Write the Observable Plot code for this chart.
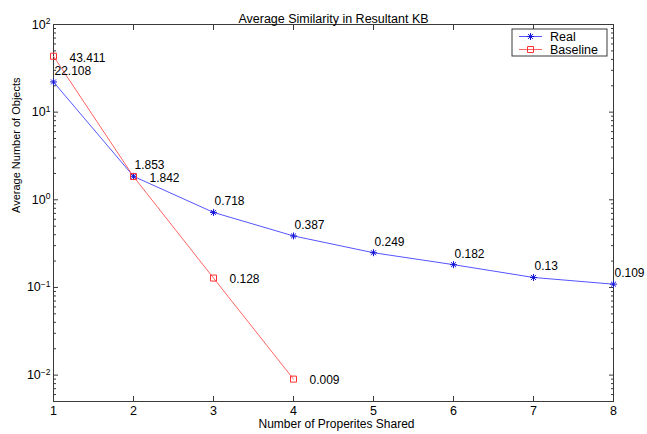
<!DOCTYPE html>
<html><head><meta charset="utf-8">
<script src="https://cdn.jsdelivr.net/npm/d3@7"></script>
<script src="https://cdn.jsdelivr.net/npm/@observablehq/plot@0.6"></script>
<style>
body{margin:0;background:#fff;}
#chart svg{display:block;}
</style></head><body><div id="chart"></div>
<script>
// ---- data ----
const realX = [1, 2, 3, 4, 5, 6, 7, 8];
const realValues = [22.108, 1.853, 0.718, 0.387, 0.249, 0.182, 0.13, 0.109];
const realLabels = ["22.108", "1.853", "0.718", "0.387", "0.249", "0.182", "0.13", "0.109"];
const baselineX = [1, 2, 3, 4];
const baselineValues = [43.411, 1.842, 0.128, 0.009];
const baselineLabels = ["43.411", "1.842", "0.128", "0.009"];
const seriesNames = ["Real", "Baseline"];
const xTicks = [1, 2, 3, 4, 5, 6, 7, 8];
const yMajorTicks = [0.01, 0.1, 1, 10, 100];
const yTickExponents = ["-2", "-1", "0", "1", "2"];
const yMinorTicks = [0.005, 0.006, 0.007, 0.008, 0.009,
  0.02, 0.03, 0.04, 0.05, 0.06, 0.07, 0.08, 0.09,
  0.2, 0.3, 0.4, 0.5, 0.6, 0.7, 0.8, 0.9,
  2, 3, 4, 5, 6, 7, 8, 9,
  20, 30, 40, 50, 60, 70, 80, 90];
const titleText = "Average Similarity in Resultant KB";
const xLabelText = "Number of Properites Shared";
const yLabelText = "Average Number of Objects";

// ---- styles ----
const W = 647, H = 434;
const M = {left: 53, right: 34, top: 24, bottom: 33};
const axisColor = "#3a3a3a";
const blueLine = "#5555ff", blueMark = "#1515d8";
const redLine = "#ff6464", redMark = "#ff3030";
const font = "'Liberation Sans', Arial, Helvetica, sans-serif";
const fs = 12.5;
const fsData = 12;

const asterisk8 = {draw(ctx, size) {
  const r = Math.sqrt(size / Math.PI), d = r * Math.SQRT1_2;
  ctx.moveTo(-r, 0); ctx.lineTo(r, 0);
  ctx.moveTo(0, -r); ctx.lineTo(0, r);
  ctx.moveTo(-d, -d); ctx.lineTo(d, d);
  ctx.moveTo(-d, d); ctx.lineTo(d, -d);
}};
const squareSym = {draw(ctx, size) {
  const r = Math.sqrt(size / Math.PI);
  ctx.rect(-r, -r, 2 * r, 2 * r);
}};

const real = realX.map((x, i) => ({x, y: realValues[i], label: realLabels[i]}));
const base = baselineX.map((x, i) => ({x, y: baselineValues[i], label: baselineLabels[i]}));

const chart = Plot.plot({
  width: W, height: H,
  marginLeft: M.left, marginRight: M.right, marginTop: M.top, marginBottom: M.bottom,
  style: {fontFamily: font, fontSize: fs + "px", color: "#000", background: "#fff", overflow: "visible"},
  x: {domain: [1, 8]},
  y: {type: "log", domain: [0.005, 100]},
  marks: [
    Plot.frame({stroke: axisColor}),
    Plot.axisX({anchor: "bottom", ticks: xTicks, tickSize: -5, tickPadding: 10, tickFormat: d => String(d), label: null, stroke: axisColor, fill: "#000", fontSize: fs}),
    Plot.axisX({anchor: "top", ticks: xTicks, tickSize: -5, tickFormat: () => "", label: null, stroke: axisColor}),
    Plot.axisY({anchor: "left", ticks: yMajorTicks, tickSize: -5, tickPadding: 8, tickFormat: d => "10^" + yTickExponents[yMajorTicks.indexOf(d)], label: null, stroke: axisColor, fill: "#000", fontSize: fs}),
    Plot.axisY({anchor: "left", ticks: yMinorTicks, tickSize: -3, tickFormat: () => "", label: null, stroke: axisColor}),
    Plot.axisY({anchor: "right", ticks: yMajorTicks, tickSize: -5, tickFormat: () => "", label: null, stroke: axisColor}),
    Plot.axisY({anchor: "right", ticks: yMinorTicks, tickSize: -3, tickFormat: () => "", label: null, stroke: axisColor}),
    Plot.line(real, {x: "x", y: "y", stroke: blueLine, strokeWidth: 1}),
    Plot.line(base, {x: "x", y: "y", stroke: redLine, strokeWidth: 1}),
    Plot.dot(real, {x: "x", y: "y", symbol: asterisk8, r: 3.5, stroke: blueMark, strokeWidth: 1}),
    Plot.dot(base, {x: "x", y: "y", symbol: squareSym, r: 3, stroke: redMark, fill: "none", strokeWidth: 1}),
    Plot.text(real, {x: "x", y: "y", text: "label", textAnchor: "start", dx: 1, dy: -11, fill: "#000", fontSize: fsData}),
    Plot.text(base, {x: "x", y: "y", text: "label", textAnchor: "start", dx: 16, dy: 1.5, fill: "#000", fontSize: fsData}),
    Plot.text([titleText], {text: d => d, frameAnchor: "top", dy: -10, fill: "#000", fontSize: fs}),
    Plot.text([xLabelText], {text: d => d, frameAnchor: "bottom", dy: 26.5, dx: 3, fill: "#000", fontSize: 12}),
    Plot.text([yLabelText], {text: d => d, frameAnchor: "left", dx: -37.5, rotate: -90, fill: "#000", fontSize: 11})
  ]
});
document.getElementById("chart").append(chart);

// superscript exponents on the y tick labels
const svg = d3.select(chart);
svg.selectAll("text").each(function() {
  const t = d3.select(this);
  const s = t.text();
  if (/^10\^/.test(s)) {
    const exp = s.slice(3);
    t.text(null);
    t.append("tspan").text("10");
    t.append("tspan").attr("dy", "-4.5").attr("font-size", "8.5px").text(exp.replace("-", "\u2212"));
  }
});

// legend (MATLAB style box in upper right of the axes)
const frameRight = W - M.right, frameTop = M.top;
const lg = svg.append("g").attr("font-family", font).attr("font-size", fs).attr("text-anchor", "start");
const lx = frameRight - 101, ly = frameTop + 5, lw = 95, lh = 27;
lg.append("rect").attr("x", lx).attr("y", ly).attr("width", lw).attr("height", lh)
  .attr("fill", "#fff").attr("stroke", axisColor).attr("stroke-width", 1);
const entries = [
  {name: seriesNames[0], line: blueLine, mark: blueMark, sym: asterisk8, r: 3.5},
  {name: seriesNames[1], line: redLine, mark: redMark, sym: squareSym, r: 3}
];
entries.forEach((e, i) => {
  const cy = ly + 7.5 + i * 13;
  lg.append("line").attr("x1", lx + 7).attr("x2", lx + 30).attr("y1", cy).attr("y2", cy)
    .attr("stroke", e.line).attr("stroke-width", 1);
  lg.append("path").attr("d", d3.symbol(e.sym, Math.PI * e.r * e.r)())
    .attr("transform", `translate(${lx + 18.5},${cy})`)
    .attr("fill", "none").attr("stroke", e.mark).attr("stroke-width", 1);
  lg.append("text").attr("x", lx + 38).attr("y", cy).attr("dy", "0.35em").attr("fill", "#000").text(e.name);
});
</script>
</body></html>
